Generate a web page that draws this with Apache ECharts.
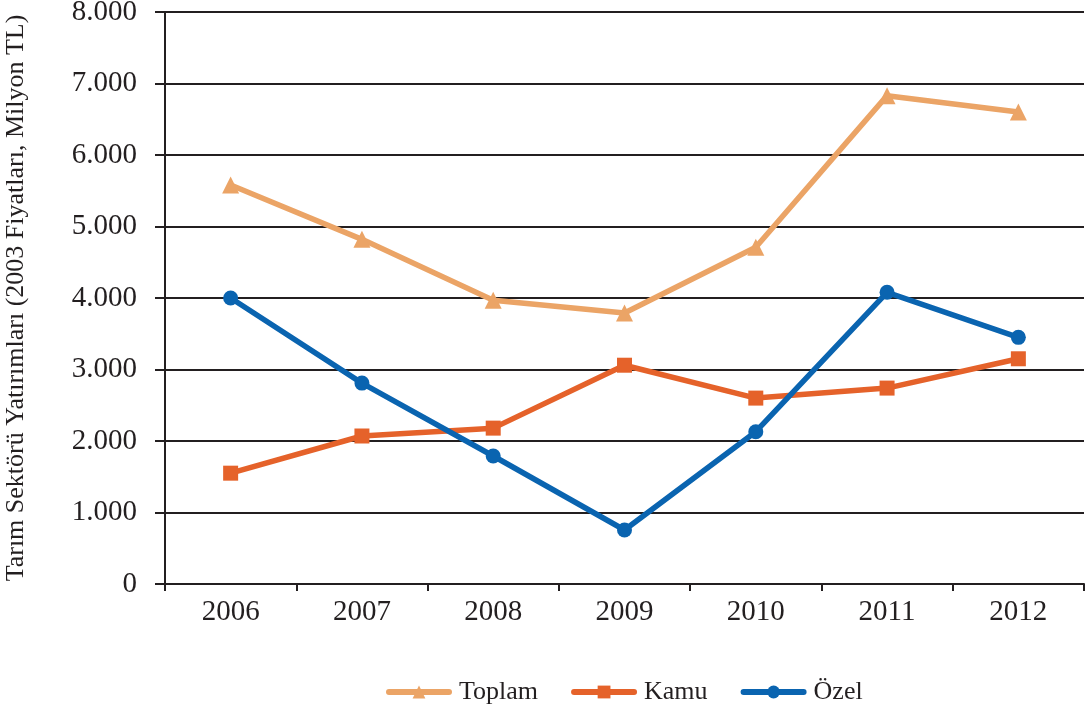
<!DOCTYPE html>
<html>
<head>
<meta charset="utf-8">
<script src="https://cdn.jsdelivr.net/npm/echarts@6/dist/echarts.min.js"></script>
<style>
  html, body { margin: 0; padding: 0; background: #fff; }
  #chart { width: 1090px; height: 716px; }
</style>
</head>
<body>
<div id="chart"></div>
<script>
const years = ["2006", "2007", "2008", "2009", "2010", "2011", "2012"];
const toplam = [5580, 4820, 3970, 3790, 4710, 6830, 6600];
const kamu = [1550, 2070, 2180, 3060, 2600, 2740, 3150];
const ozel = [4000, 2810, 1790, 755, 2130, 4080, 3450];

const font = "Liberation Serif";

// sayıları 8.000 biçiminde göster
function fmt(v) {
  return String(v).replace(/\B(?=(\d{3})+(?!\d))/g, ".");
}

function lineSeries(name, data, color, symbol, size) {
  return {
    name: name,
    type: "line",
    data: data,
    symbol: symbol,
    symbolSize: size,
    showAllSymbol: true,
    lineStyle: { color: color, width: 5.5 },
    itemStyle: { color: color },
    emphasis: { disabled: true }
  };
}

const chart = echarts.init(document.getElementById("chart"));
chart.setOption({
  backgroundColor: "#fff",
  animation: false,
  textStyle: { fontFamily: font },
  grid: {
    left: 165, right: 6, top: 12, bottom: 132,
    containLabel: false,
    outerBoundsMode: "none"
  },
  legend: {
    bottom: 6,
    left: 381,
    itemWidth: 60,
    itemHeight: 16,
    itemGap: 33,
    lineStyle: { width: 6, cap: "round" },
    textStyle: { fontFamily: font, fontSize: 26, color: "#231f20", padding: [0, 0, 0, 5] },
    data: ["Toplam", "Kamu", "Özel"]
  },
  xAxis: {
    type: "category",
    data: years,
    boundaryGap: true,
    axisLine: { lineStyle: { color: "#231f20", width: 2 } },
    axisTick: { show: true, length: 7, lineStyle: { color: "#231f20", width: 2 } },
    axisLabel: { fontFamily: font, fontSize: 29, color: "#231f20", margin: 14 }
  },
  yAxis: {
    type: "value",
    min: 0,
    max: 8000,
    interval: 1000,
    name: "Tarım Sektörü Yatırımları (2003 Fiyatları, Milyon TL)",
    nameLocation: "middle",
    nameGap: 136,
    nameMoveOverlap: false,
    nameTextStyle: { fontFamily: font, fontSize: 26, color: "#231f20" },
    axisLine: { show: true, lineStyle: { color: "#231f20", width: 2 } },
    axisTick: { show: true, length: 10, lineStyle: { color: "#231f20", width: 2 } },
    axisLabel: { fontFamily: font, fontSize: 29, color: "#231f20", margin: 28, formatter: fmt },
    splitLine: { show: true, lineStyle: { color: "#231f20", width: 2 } }
  },
  series: [
    lineSeries("Toplam", toplam, "#eba466", "triangle", 17),
    lineSeries("Kamu", kamu, "#e5622a", "rect", 15),
    lineSeries("Özel", ozel, "#0a64b0", "circle", 15)
  ]
});
</script>
</body>
</html>
